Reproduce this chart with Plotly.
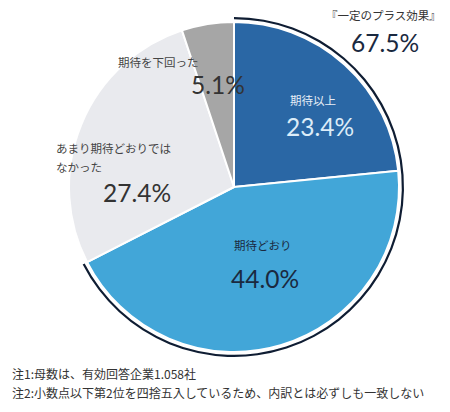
import plotly.graph_objects as go

# values
labels = ["期待以上", "期待どおり", "あまり期待どおりではなかった", "期待を下回った"]
shares = [23.4, 44.0, 27.4, 5.1]
colors = ["#2a67a5", "#42a6d8", "#e9eaee", "#a6a6a6"]

plus_label = "『一定のプラス効果』"
plus_share = 67.5

notes = [
    "注1:母数は、有効回答企業1.058社",
    "注2:小数点以下第2位を四捨五入しているため、内訳とは必ずしも一致しない",
]

# page body has an 8px margin, so the figure is drawn 8px in from the corner
OFF = 8
W, H = 450 - 2 * OFF, 412 - 2 * OFF
CX, CY, R = 234, 187, 165     # pie centre / radius, screen px
RING_R, RING_W = 170, 2.2     # outer bracket arc


def px_dom(cx, cy, r):
    cx, cy = cx - OFF, cy - OFF
    return dict(x=[(cx - r) / W, (cx + r) / W],
                y=[(H - cy - r) / H, (H - cy + r) / H])


JP = "Noto Sans CJK JP"
NUM = "Lato"
PCT = 24.5

fig = go.Figure()

fig.add_trace(go.Pie(
    labels=labels, values=shares, sort=False, direction="clockwise",
    marker=dict(colors=colors, line=dict(color="white", width=2)),
    textinfo="none", hoverinfo="label+value", showlegend=False,
    domain=px_dom(CX, CY, R),
))

# bracket arc over 期待以上 + 期待どおり
plus_part = shares[0] + shares[1]
rest_part = shares[2] + shares[3]
fig.add_trace(go.Pie(
    values=[plus_part, rest_part], sort=False, direction="clockwise",
    hole=(RING_R - RING_W) / RING_R,
    marker=dict(colors=["#0f1d33", "rgba(0,0,0,0)"], line=dict(width=0)),
    textinfo="none", hoverinfo="skip", showlegend=False,
    domain=px_dom(CX, CY, RING_R),
))

ann = []


def add(text, x, y, size, color, font=JP, xanchor="center"):
    ann.append(dict(text=text, x=(x - OFF) / W, y=1 - (y - OFF) / H,
                    xref="paper", yref="paper",
                    showarrow=False, xanchor=xanchor, yanchor="middle",
                    font=dict(family=font, size=size, color=color)))


add(plus_label, 383, 15, 11.5, "#333333")
add(f"{plus_share:.1f}%", 385, 42, PCT, "#1a2940", NUM)

add(labels[0], 313, 100, 11.5, "#e6eef7")
add(f"{shares[0]:.1f}%", 320, 126, PCT, "#dcecf8", NUM)

add(labels[1], 263, 245, 11.5, "#1a2940")
add(f"{shares[1]:.1f}%", 265, 278, PCT, "#1a2940", NUM)

add("あまり期待どおりでは", 54, 148, 11.5, "#444444", xanchor="left")
add("なかった", 54, 167, 11.5, "#444444", xanchor="left")
add(f"{shares[2]:.1f}%", 137, 193, PCT, "#333333", NUM)

add(labels[3], 158, 62, 11.5, "#444444")
add(f"{shares[3]:.1f}%", 218, 85, PCT, "#333333", NUM)

for i, n in enumerate(notes):
    add(n, 10, 373 + i * 19, 12, "#333333", xanchor="left")

fig.update_layout(
    width=W, height=H,
    margin=dict(l=0, r=0, t=0, b=0),
    paper_bgcolor="white", plot_bgcolor="white",
    annotations=ann,
)

fig.write_html("out.html")
